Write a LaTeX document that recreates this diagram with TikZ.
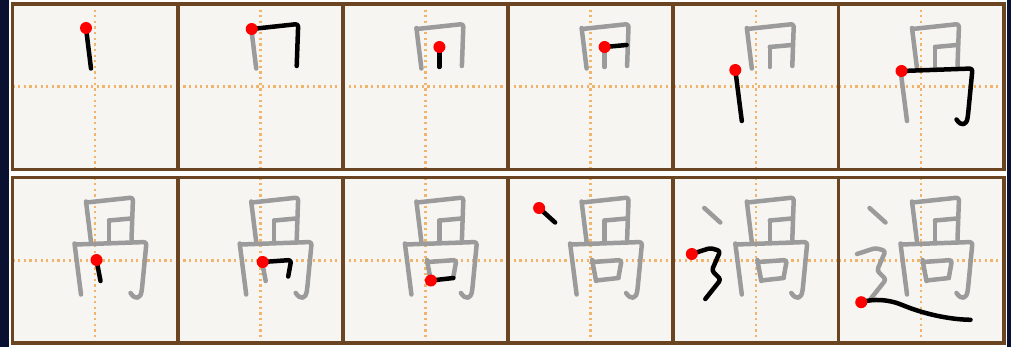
\documentclass[tikz,border=0pt]{standalone}
\usepackage{tikz}
\definecolor{grid}{HTML}{F2B46A}
\definecolor{frame}{HTML}{6B4522}
\definecolor{paper}{HTML}{F6F5F1}
\definecolor{ghost}{HTML}{9B9B9B}
\definecolor{night}{HTML}{0A1030}
\tikzset{
  cell/.style={draw=frame, line width=2.6pt, fill=paper},
  guide/.style={draw=grid, line width=1.8pt, dash pattern=on 1.6pt off 2.4pt},
  done/.style={draw=ghost, line width=3.2pt, line cap=round, line join=round, rounded corners=2pt},
  now/.style={done, draw=black},
  startdot/.style={fill=red},
}
% strokes of the character, in pixels from the cell's top left corner
\newcommand{\guostroke}[2]{%
  \ifcase#1 \or
    \draw[#2] (73.5,24) coordinate (st) -- (78.5,64.5);\or
    \draw[#2] (74,25) coordinate (st) -- (120.5,20) -- (119,62);\or
    \draw[#2] (96.5,43) coordinate (st) -- (96.5,63);\or
    \draw[#2] (96.5,43) coordinate (st) -- (118.5,41);\or
    \draw[#2] (62,66) coordinate (st) -- (68.5,117);\or
    \draw[#2] (63,67) coordinate (st) -- (134,64.5) -- (129.5,111)
      .. controls (128,121) and (123,123) .. (118,115.5);\or
    \draw[#2] (84,82.5) coordinate (st) -- (88,103.5);\or
    \draw[#2] (85,84.5) coordinate (st) -- (113.5,82.5) -- (110.5,99);\or
    \draw[#2] (88,103) coordinate (st) -- (110.5,100.5);\or
    \draw[#2] (31,30.5) coordinate (st) -- (47,45);\or
    \draw[#2] (18.5,76.5) coordinate (st) -- (37,70.5) -- (47,73.5) -- (38.5,93)
      -- (47.5,102) -- (32,121.5);\or
    \draw[#2] (22.7,124.7) coordinate (st) .. controls (35,121) and (50,122) .. (65,128)
      .. controls (85,136) and (110,142) .. (132,142.3);\or
  \fi}

\begin{document}
\begin{tikzpicture}[x=0.025cm, y=-0.025cm]
  \useasboundingbox (0,0) rectangle (1011,347);
  \fill[white] (0,0) rectangle (1011,347);
  % edges of the page behind
  \fill[night] (0,0) rectangle (9,347);
  \fill[night] (1007,0) rectangle (1011,347);
  \foreach \n in {1,...,12} {
    \pgfmathtruncatemacro\col{mod(\n-1,6)}
    \pgfmathtruncatemacro\row{(\n-1)/6}
    \begin{scope}[shift={(12.5+\col*165.2, 4+\row*173.5)}]
      \fill[paper] (0,0) rectangle (165.2,165.5);
      \draw[guide] (82.6,0) -- (82.6,165.5);
      \draw[guide] (0,82.75) -- (165.2,82.75);
      \draw[cell, fill=none] (0,0) rectangle (165.2,165.5);
      \foreach \m in {1,...,\n} {
        \ifnum\m<\n \guostroke{\m}{done}\else \guostroke{\m}{now}\fi
      }
      \fill[startdot] (st) circle (6);
    \end{scope}
  }
\end{tikzpicture}
\end{document}
